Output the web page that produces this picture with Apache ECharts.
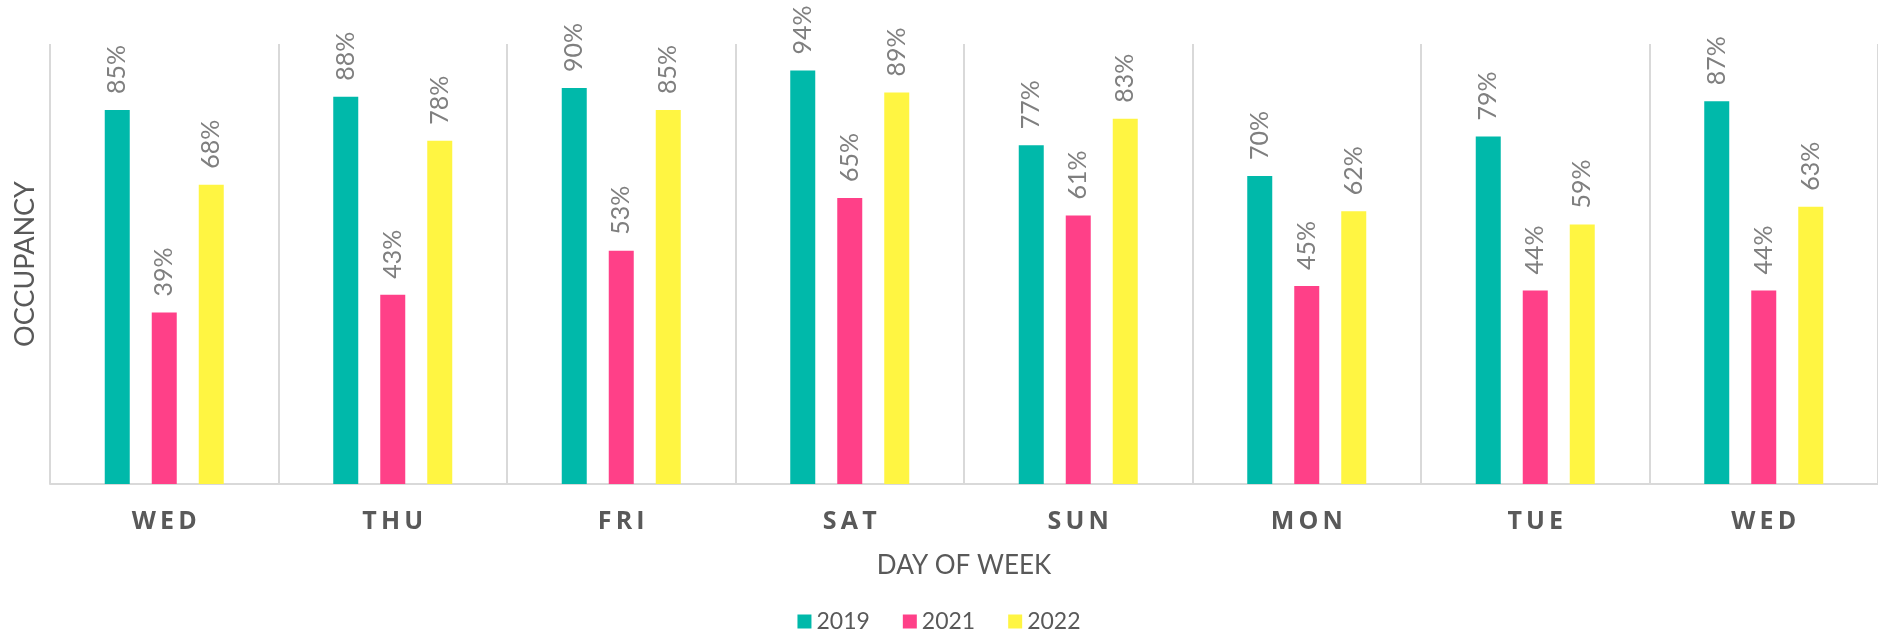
<!DOCTYPE html>
<html>
<head>
<meta charset="utf-8">
<script src="https://cdn.jsdelivr.net/npm/echarts@6/dist/echarts.min.js"></script>
<style>
  html, body { margin: 0; padding: 0; background: #fff; }
  #chart { width: 1878px; height: 629px; }
</style>
</head>
<body>
<div id="chart"></div>
<script>
const days = ['WED', 'THU', 'FRI', 'SAT', 'SUN', 'MON', 'TUE', 'WED']
const seriesNames = ['2019', '2021', '2022']
const occ2019 = [85, 88, 90, 94, 77, 70, 79, 87]
const occ2021 = [39, 43, 53, 65, 61, 45, 44, 44]
const occ2022 = [68, 78, 85, 89, 83, 62, 59, 63]
const colors = ['#00B9AA', '#FF4088', '#FFF542']

const labelStyle = {
  show: true,
  position: 'top',
  rotate: 90,
  align: 'left',
  verticalAlign: 'middle',
  distance: 16,
  color: '#7f7f7f',
  fontFamily: 'Lato',
  fontSize: 25,
  formatter: p => p.value + '%'
}

const makeSeries = (name, data, color) => ({
  name,
  type: 'bar',
  data,
  barWidth: 25,
  barGap: '88%',
  itemStyle: { color },
  label: labelStyle
})

const option = {
  animation: false,
  grid: { left: 50, top: 44, right: -10, bottom: 145 },
  legend: {
    top: 605,
    left: 'center',
    itemWidth: 14,
    itemHeight: 14,
    itemGap: 33,
    icon: 'rect',
    textStyle: { color: '#595959', fontFamily: 'Lato', fontSize: 23 },
    data: seriesNames
  },
  xAxis: {
    type: 'category',
    data: days,
    name: 'DAY OF WEEK',
    nameLocation: 'middle',
    nameGap: 69,
    nameTextStyle: { color: '#595959', fontFamily: 'Lato', fontSize: 26 },
    axisLine: { lineStyle: { color: '#d9d9d9', width: 2 } },
    axisTick: { show: false },
    splitLine: { show: true, lineStyle: { color: '#d9d9d9', width: 2 } },
    axisLabel: {
      margin: 25,
      color: '#595959',
      fontFamily: 'Open Sans',
      fontWeight: 'bold',
      fontSize: 25,
      formatter: v => v.split('').join('\u2009')
    }
  },
  yAxis: {
    type: 'value',
    min: 0,
    max: 100,
    name: 'OCCUPANCY',
    nameLocation: 'middle',
    nameGap: 11,
    nameTextStyle: { color: '#595959', fontFamily: 'Lato', fontSize: 27 },
    axisLine: { show: false },
    axisTick: { show: false },
    axisLabel: { show: false },
    splitLine: { show: false }
  },
  series: [
    makeSeries(seriesNames[0], occ2019, colors[0]),
    makeSeries(seriesNames[1], occ2021, colors[1]),
    makeSeries(seriesNames[2], occ2022, colors[2])
  ]
}

const chart = echarts.init(document.getElementById('chart'))
chart.setOption(option)
</script>
</body>
</html>
